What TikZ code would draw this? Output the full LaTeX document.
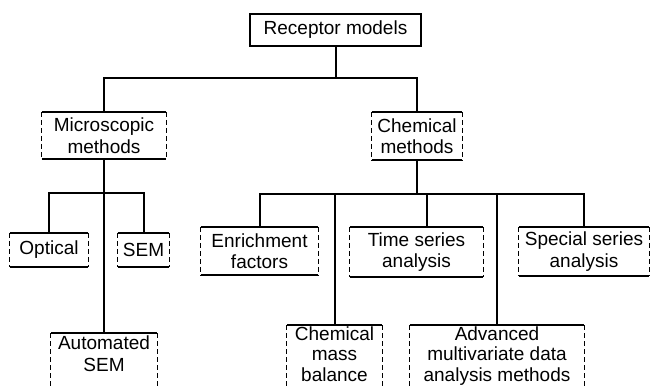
\documentclass[tikz,border=0pt]{standalone}
\usepackage{fontspec}
\setmainfont{Liberation Sans}
\begin{document}
\begin{tikzpicture}[x=1pt,y=-1pt,
  lbl/.style={font=\fontsize{19}{21.5}\selectfont, align=center, inner sep=0pt},
  box/.style={lbl},
  openbox/.style={font=\fontsize{19}{20.5}\selectfont, align=center,
                  inner xsep=0pt, inner ysep=1.5pt, anchor=north},
  edge/.style={line width=1.5pt},
  side/.style={line width=1.2pt, dash pattern=on 5pt off 3pt},
  conn/.style={line width=2pt}]
  \fill[white] (0,0) rectangle (650,387);
  \useasboundingbox (0,0) rectangle (650,387);
  \clip (0,0) rectangle (650,387);

  % root
  \node[box, draw, line width=1.5pt, minimum width=171pt, minimum height=32pt]
    (rm) at (335.5,30) {Receptor models};

  % second level
  \node[box, minimum width=124pt, minimum height=47pt] (ms) at (104,135.5) {Microscopic\\methods};
  \node[box, minimum width=90pt, minimum height=48pt] (cm) at (417,136) {Chemical\\methods};

  % microscopic branch
  \node[box, minimum width=78pt, minimum height=34pt] (op) at (49,250) {Optical};
  \node[box, minimum width=51pt, minimum height=34pt] (sem) at (143.5,250) {SEM};
  \node[openbox, minimum width=106pt, inner ysep=3pt, font=\fontsize{19}{22}\selectfont]
    (as) at (104,333) {Automated\\SEM};

  % chemical branch
  \node[box, minimum width=117pt, minimum height=48pt] (en) at (259.5,251) {Enrichment\\factors};
  \node[box, minimum width=133pt, minimum height=50pt] (ts) at (416.5,252) {Time series\\analysis};
  \node[box, minimum width=130pt, minimum height=49pt] (ss) at (584,251.5) {Special series\\analysis};
  \node[openbox, minimum width=95pt] (cmb) at (334.5,325) {Chemical\\mass\\balance};
  \node[openbox, minimum width=174pt] (adv) at (497,325) {Advanced\\multivariate data\\analysis methods};

  % box outlines: solid top and bottom, broken sides
  \foreach \n in {ms,cm,op,sem,en,ts,ss}{
    \draw[edge] (\n.north west) -- (\n.north east);
    \draw[edge] (\n.south west) -- (\n.south east);
    \draw[side] (\n.north west) -- (\n.south west);
    \draw[side] (\n.north east) -- (\n.south east);
  }
  \coordinate (bot) at (0,400);
  \foreach \n in {as,cmb,adv}{
    \draw[edge] (\n.north west) -- (\n.north east);
    \draw[side] (\n.north west) -- (\n.north west |- bot);
    \draw[side] (\n.north east) -- (\n.north east |- bot);
  }

  % connector levels
  \coordinate (b1) at (0,78);
  \coordinate (b2) at (0,193);
  \coordinate (b3) at (0,194);
  \coordinate (tsc) at ([xshift=10.5pt]ts.north);

  \draw[conn] (rm.south) -- (rm.south |- b1);
  \draw[conn] (ms.north) -- (ms.north |- b1) -- (cm.north |- b1) -- (cm.north);

  \draw[conn] (ms.south) -- (as.north);
  \draw[conn] (op.north) -- (op.north |- b2) -- (sem.north |- b2) -- (sem.north);

  \draw[conn] (cm.south) -- (cm.south |- b3);
  \draw[conn] (en.north) -- (en.north |- b3) -- (ss.north |- b3) -- (ss.north);
  \draw[conn] (cmb.north |- b3) -- (cmb.north);
  \draw[conn] (tsc |- b3) -- (tsc);
  \draw[conn] (adv.north |- b3) -- (adv.north);
\end{tikzpicture}
\end{document}
